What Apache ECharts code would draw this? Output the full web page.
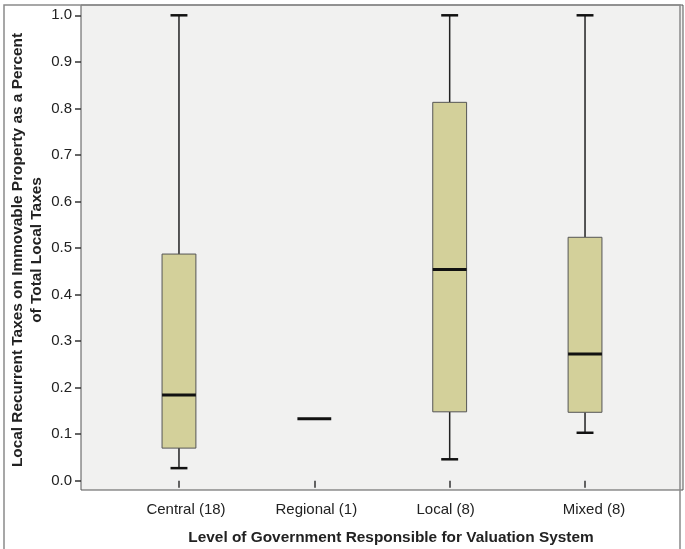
<!DOCTYPE html>
<html>
<head>
<meta charset="utf-8">
<script src="https://cdn.jsdelivr.net/npm/echarts@6/dist/echarts.min.js"></script>
<style>
html,body{margin:0;padding:0;background:#fff;}
#chart{width:685px;height:549px;}
</style>
</head>
<body>
<div id="chart"></div>
<script>
var categories = ['Central (18)', 'Regional (1)', 'Local (8)', 'Mixed (8)'];
var lowWhisker = [0.027, 0.133, 0.046, 0.103];
var q1Values = [0.070, 0.133, 0.148, 0.147];
var medianValues = [0.184, 0.133, 0.454, 0.272];
var q3Values = [0.487, 0.133, 0.813, 0.523];
var highWhisker = [1.0, 0.133, 1.0, 1.0];

var FONT = "'Liberation Sans', Arial, sans-serif";

var boxData = categories.map(function (c, i) {
  return [i, lowWhisker[i], q1Values[i], medianValues[i], q3Values[i], highWhisker[i]];
});

// small horizontal label nudges (as in the reference rendering)
var labelRich = {
  l0: {padding: [0, 0, 0, 14]},
  l1: {padding: [0, 0, 0, 4]},
  l2: {padding: [0, 8, 0, 0]},
  l3: {padding: [0, 0, 0, 18]}
};

function renderBox(params, api) {
  var x = api.value(0);
  var lo = api.value(1), q1 = api.value(2), med = api.value(3), q3 = api.value(4), hi = api.value(5);
  var pLo = api.coord([x, lo]), pQ1 = api.coord([x, q1]), pMed = api.coord([x, med]),
      pQ3 = api.coord([x, q3]), pHi = api.coord([x, hi]);
  var bw = api.size([1, 0])[0] * 0.25;
  var cx = pMed[0];
  var children = [];
  if (hi > lo) {
    var capW = bw / 2;
    children.push({type: 'line', shape: {x1: cx, y1: pHi[1], x2: cx, y2: pQ3[1]},
      style: {stroke: '#222', lineWidth: 1.5}});
    children.push({type: 'line', shape: {x1: cx, y1: pQ1[1], x2: cx, y2: pLo[1]},
      style: {stroke: '#222', lineWidth: 1.5}});
    children.push({type: 'line', shape: {x1: cx - capW / 2, y1: pHi[1], x2: cx + capW / 2, y2: pHi[1]},
      style: {stroke: '#111', lineWidth: 2.5}});
    children.push({type: 'line', shape: {x1: cx - capW / 2, y1: pLo[1], x2: cx + capW / 2, y2: pLo[1]},
      style: {stroke: '#111', lineWidth: 2.5}});
    children.push({type: 'rect', shape: {x: cx - bw / 2, y: pQ3[1], width: bw, height: pQ1[1] - pQ3[1]},
      style: {fill: '#d3d09a', stroke: '#555', lineWidth: 1}});
  }
  children.push({type: 'line', shape: {x1: cx - bw / 2, y1: pMed[1], x2: cx + bw / 2, y2: pMed[1]},
    style: {stroke: '#111', lineWidth: 3}});
  return {type: 'group', children: children};
}

var chart = echarts.init(document.getElementById('chart'), null, {renderer: 'canvas'});
chart.setOption({
  animation: false,
  backgroundColor: '#ffffff',
  textStyle: {fontFamily: FONT},
  grid: [
    {left: 111.3, right: 32.3, top: 15.3, bottom: 68.3, show: false},
    {left: 81, right: 2, top: 5, bottom: 59, show: true, backgroundColor: '#f1f1f0',
     borderColor: '#555', borderWidth: 1}
  ],
  xAxis: [
    {type: 'category', gridIndex: 0, data: categories, offset: 9.3,
     axisLine: {show: false},
     axisTick: {show: true, alignWithLabel: true, interval: 0, length: 7, lineStyle: {color: '#333', width: 1.5}},
     axisLabel: {interval: 0, hideOverlap: false, margin: 12, fontSize: 15, color: '#222', fontFamily: FONT, rich: labelRich,
       formatter: function (v, i) { return '{l' + i + '|' + v + '}'; }},
     splitLine: {show: false}},
    {type: 'value', gridIndex: 1, show: false}
  ],
  yAxis: [
    {type: 'value', gridIndex: 0, min: 0, max: 1, interval: 0.1, offset: 30.3,
     axisLine: {show: false},
     axisTick: {show: true, length: 6, lineStyle: {color: '#333', width: 1.5}},
     axisLabel: {margin: 9, fontSize: 15, color: '#222', fontFamily: FONT,
       formatter: function (v) { return v.toFixed(1); }},
     splitLine: {show: false}},
    {type: 'value', gridIndex: 1, show: false}
  ],
  graphic: [
    {type: 'rect', z: 100, silent: true,
     shape: {x: 4, y: 5, width: 676, height: 548},
     style: {fill: 'none', stroke: '#8a8a8a', lineWidth: 1.5}},
    {type: 'text', z: 100, x: 391, y: 538,
     style: {text: 'Level of Government Responsible for Valuation System', font: 'bold 15.4px ' + FONT,
       fill: '#222', textAlign: 'center', textVerticalAlign: 'middle'}},
    {type: 'text', z: 100, x: 27.5, y: 250, rotation: Math.PI / 2,
     style: {text: 'Local Recurrent Taxes on Immovable Property as a Percent\nof Total Local Taxes',
       font: 'bold 15.4px ' + FONT, lineHeight: 19,
       fill: '#222', textAlign: 'center', textVerticalAlign: 'middle'}}
  ],
  series: [{
    type: 'custom',
    xAxisIndex: 0, yAxisIndex: 0,
    renderItem: renderBox,
    encode: {x: 0, y: [1, 2, 3, 4, 5]},
    data: boxData
  }]
});
</script>
</body>
</html>
